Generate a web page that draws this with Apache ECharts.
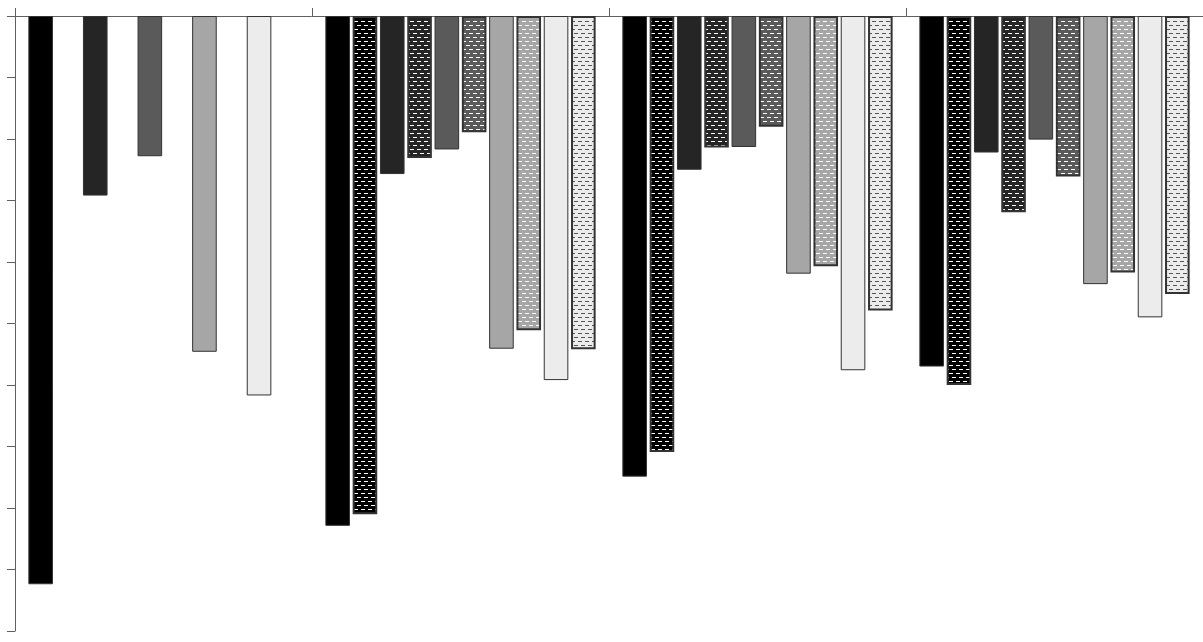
<!DOCTYPE html>
<html>
<head>
<meta charset="utf-8">
<script src="https://cdn.jsdelivr.net/npm/echarts@6/dist/echarts.min.js"></script>
<style>
html,body{margin:0;padding:0;background:#fff;}
#chart{width:1203px;height:642px;}
</style>
</head>
<body>
<div id="chart"></div>
<script>
const categories = ['1', '2', '3', '4'];
const seriesNames = ['S1', 'S1p', 'S2', 'S2p', 'S3', 'S3p', 'S4', 'S4p', 'S5', 'S5p'];
const s1  = [9.24, 8.29, 7.49, 5.70];
const s1p = [null, 8.10, 7.09, 6.00];
const s2  = [2.92, 2.57, 2.50, 2.22];
const s2p = [null, 2.31, 2.14, 3.19];
const s3  = [2.28, 2.17, 2.13, 2.01];
const s3p = [null, 1.89, 1.80, 2.61];
const s4  = [5.46, 5.41, 4.19, 4.36];
const s4p = [null, 5.11, 4.07, 4.17];
const s5  = [6.17, 5.92, 5.76, 4.90];
const s5p = [null, 5.42, 4.79, 4.52];
const seriesData = [s1, s1p, s2, s2p, s3, s3p, s4, s4p, s5, s5p];

const baseColors = ['#000000', '#252525', '#5a5a5a', '#a6a6a6', '#ececec'];
const dashColors = ['#ffffff', '#ffffff', '#ffffff', '#ffffff', '#555555'];

function makePattern(bg, fg) {
  const c = document.createElement('canvas');
  c.width = 7; c.height = 8;
  const ctx = c.getContext('2d');
  ctx.fillStyle = bg; ctx.fillRect(0, 0, 7, 8);
  ctx.fillStyle = fg;
  ctx.fillRect(0, 1, 4, 1);
  ctx.fillRect(4, 5, 3, 1);
  ctx.fillRect(0, 5, 1, 1);
  return c;
}

const chart = echarts.init(document.getElementById('chart'), null, {renderer: 'canvas'});
const series = seriesData.map((d, i) => {
  const k = Math.floor(i / 2);
  const patterned = i % 2 === 1;
  return {
    name: seriesNames[i],
    type: 'bar',
    data: d,
    barGap: '11%',
    barCategoryGap: '9%',
    itemStyle: {
      color: patterned ? {image: makePattern(baseColors[k], dashColors[k]), repeat: 'repeat'} : baseColors[k],
      borderColor: '#333333',
      borderWidth: patterned ? 2 : 1
    },
    emphasis: {disabled: true},
    animation: false
  };
});

chart.setOption({
  animation: false,
  grid: {left: 15, right: 0, top: 16, bottom: 11, containLabel: false},
  xAxis: {
    type: 'category',
    data: categories,
    position: 'top',
    boundaryGap: true,
    axisLine: {show: true, lineStyle: {color: '#606060', width: 1}},
    axisTick: {show: true, length: 8, inside: false, lineStyle: {color: '#606060'}},
    axisLabel: {show: false},
    splitLine: {show: false}
  },
  yAxis: {
    type: 'value',
    inverse: true,
    min: 0,
    max: 10,
    interval: 1,
    axisLine: {show: true, lineStyle: {color: '#606060', width: 1}},
    axisTick: {show: true, length: 8, inside: false, lineStyle: {color: '#606060'}},
    axisLabel: {show: false},
    splitLine: {show: false}
  },
  series: series
});
</script>
</body>
</html>
